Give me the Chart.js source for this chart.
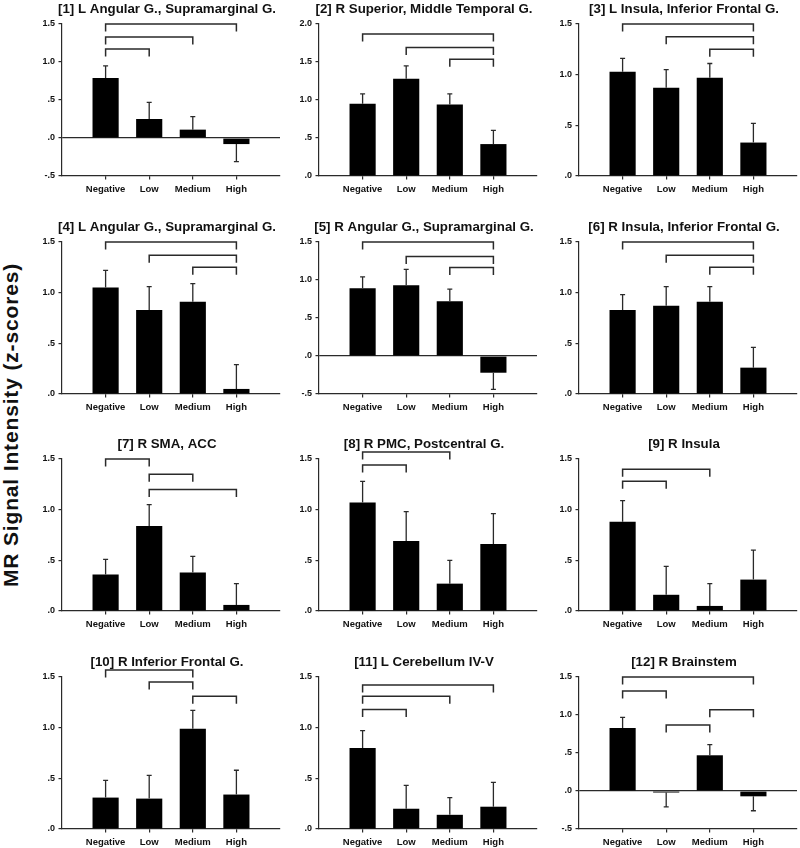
<!DOCTYPE html>
<html>
<head>
    <title>MR Signal Intensity by Category</title>
    <script src="https://cdn.jsdelivr.net/npm/chart.js"></script>
    <style>
        body { margin: 0; width: 800px; height: 848px; overflow: hidden; background: #fff; position: relative; }
        canvas { position: absolute; }
        #ylabel {
            position: absolute; left: -189px; top: 413px; width: 400px; height: 24px;
            line-height: 24px; text-align: center; transform: rotate(-90deg);
            font: bold 21px "Liberation Sans", Arial, sans-serif; letter-spacing: 0.85px; color: #111;
            white-space: nowrap;
        }
    </style>
</head>
<body>
    <div id="ylabel">MR Signal Intensity (z-scores)</div>

    <script>
        // categories on the x axis of every panel
        var categories = ['Negative', 'Low', 'Medium', 'High'];

        var titles = [
            '[1] L Angular G., Supramarginal G.',
            '[2] R Superior, Middle Temporal G.',
            '[3] L Insula, Inferior Frontal G.',
            '[4] L Angular G., Supramarginal G.',
            '[5] R Angular G., Supramarginal G.',
            '[6] R Insula, Inferior Frontal G.',
            '[7] R SMA, ACC',
            '[8] R PMC, Postcentral G.',
            '[9] R Insula',
            '[10] R Inferior Frontal G.',
            '[11] L Cerebellum IV-V',
            '[12] R Brainstem'
        ];

        // mean z-scores per panel (Negative, Low, Medium, High)
        var means = [
            [0.79, 0.25, 0.11, -0.08],
            [0.95, 1.28, 0.94, 0.42],
            [1.03, 0.87, 0.97, 0.33],
            [1.05, 0.83, 0.91, 0.05],
            [0.89, 0.93, 0.72, -0.22],
            [0.83, 0.87, 0.91, 0.26],
            [0.36, 0.84, 0.38, 0.06],
            [1.07, 0.69, 0.27, 0.66],
            [0.88, 0.16, 0.05, 0.31],
            [0.31, 0.30, 0.99, 0.34],
            [0.80, 0.20, 0.14, 0.22],
            [0.83, -0.02, 0.47, -0.07]
        ];

        // standard errors (one-sided bars)
        var sems = [
            [0.16, 0.22, 0.17, 0.23],
            [0.13, 0.17, 0.14, 0.18],
            [0.13, 0.18, 0.14, 0.19],
            [0.17, 0.23, 0.18, 0.24],
            [0.15, 0.21, 0.16, 0.22],
            [0.15, 0.19, 0.15, 0.20],
            [0.15, 0.21, 0.16, 0.21],
            [0.21, 0.29, 0.23, 0.30],
            [0.21, 0.28, 0.22, 0.29],
            [0.17, 0.23, 0.18, 0.24],
            [0.17, 0.23, 0.17, 0.24],
            [0.14, 0.19, 0.14, 0.19]
        ];

        // significance brackets: [from category, to category, level]
        var brackets = [
            [[0, 3, 1.5], [0, 2, 1.33], [0, 1, 1.17]],
            [[0, 3, 1.87], [1, 3, 1.69], [2, 3, 1.535]],
            [[0, 3, 1.5], [1, 3, 1.375], [2, 3, 1.25]],
            [[0, 3, 1.5], [1, 3, 1.37], [2, 3, 1.25]],
            [[0, 3, 1.5], [1, 3, 1.31], [2, 3, 1.165]],
            [[0, 3, 1.5], [1, 3, 1.37], [2, 3, 1.25]],
            [[0, 1, 1.5], [1, 2, 1.35], [1, 3, 1.2]],
            [[0, 2, 1.57], [0, 1, 1.44]],
            [[0, 2, 1.40], [0, 1, 1.28]],
            [[0, 2, 1.57], [1, 2, 1.45], [2, 3, 1.31]],
            [[0, 3, 1.42], [0, 2, 1.31], [0, 1, 1.18]],
            [[0, 3, 1.5], [0, 1, 1.315], [2, 3, 1.07], [1, 2, 0.87]]
        ];

        var yMin = [-0.5, 0, 0, 0, -0.5, 0, 0, 0, 0, 0, 0, -0.5];
        var yMax = [1.5, 2.0, 1.5, 1.5, 1.5, 1.5, 1.5, 1.5, 1.5, 1.5, 1.5, 1.5];

        // panel grid: y-axis x position per column, plot top per row
        var colX = [62, 319, 579];
        var rowTop = [24, 242, 459, 677];
        var FONT = '"Liberation Sans", Arial, sans-serif';
        var INK = '#2a2a2a';

        function tickText(v) {
            return v.toFixed(1).replace(/^(-?)0\./, '$1.');
        }

        // error bars and brackets, drawn through the chart scales
        function marksFor(p) {
            return {
                id: 'marks' + p,
                afterDatasetsDraw: function (chart) {
                    var ctx = chart.ctx, xs = chart.scales.x, ys = chart.scales.y;
                    ctx.save();
                    ctx.strokeStyle = INK;
                    ctx.lineWidth = 1.3;
                    means[p].forEach(function (m, i) {
                        var x = xs.getPixelForValue(i + 1);
                        var tip = m >= 0 ? m + sems[p][i] : m - sems[p][i];
                        var y0 = ys.getPixelForValue(m), y1 = ys.getPixelForValue(tip);
                        ctx.beginPath();
                        ctx.moveTo(x, y0);
                        ctx.lineTo(x, y1);
                        ctx.moveTo(x - 2.5, y1);
                        ctx.lineTo(x + 2.5, y1);
                        ctx.stroke();
                    });
                    ctx.lineWidth = 1.5;
                    brackets[p].forEach(function (b) {
                        var xa = xs.getPixelForValue(b[0] + 1);
                        var xb = xs.getPixelForValue(b[1] + 1);
                        var y = ys.getPixelForValue(b[2]);
                        ctx.beginPath();
                        ctx.moveTo(xa, y + 7.5);
                        ctx.lineTo(xa, y);
                        ctx.lineTo(xb, y);
                        ctx.lineTo(xb, y + 7.5);
                        ctx.stroke();
                    });
                    ctx.restore();
                }
            };
        }

        Chart.defaults.font.family = FONT;
        Chart.defaults.color = '#111';

        titles.forEach(function (title, p) {
            var cv = document.createElement('canvas');
            cv.width = 300;
            cv.height = 199;
            cv.style.left = (colX[p % 3] - 45) + 'px';
            cv.style.top = (rowTop[Math.floor(p / 3)] - 23) + 'px';
            document.body.appendChild(cv);

            new Chart(cv.getContext('2d'), {
                type: 'bar',
                data: {
                    datasets: [{
                        data: means[p].map(function (v, i) { return { x: i + 1, y: v }; }),
                        backgroundColor: '#000',
                        barPercentage: 0.6,
                        categoryPercentage: 1
                    }]
                },
                options: {
                    responsive: false,
                    animation: false,
                    events: [],
                    layout: { padding: 0 },
                    plugins: {
                        legend: { display: false },
                        tooltip: { enabled: false },
                        title: {
                            display: true,
                            text: title,
                            color: '#111',
                            font: { size: 13.3, weight: 'bold', lineHeight: '16px' },
                            padding: { top: 0, bottom: 7 }
                        }
                    },
                    scales: {
                        x: {
                            type: 'linear', min: 0, max: 5, offset: false,
                            afterBuildTicks: function (s) {
                                s.ticks = categories.map(function (c, i) { return { value: i + 1 }; });
                            },
                            afterFit: function (s) { s.height = 24; },
                            ticks: {
                                callback: function (v) { return categories[v - 1] || ''; },
                                font: { size: 9.5, weight: 'bold' },
                                padding: 4.5, maxRotation: 0, autoSkip: false
                            },
                            grid: { offset: false, drawOnChartArea: false, tickLength: 3.5, color: INK, lineWidth: 1.2 },
                            border: { color: INK, width: 1.2 }
                        },
                        y: {
                            min: yMin[p], max: yMax[p],
                            afterFit: function (s) { s.width = 45; },
                            ticks: {
                                stepSize: 0.5,
                                callback: tickText,
                                font: { size: 9, weight: 'bold' },
                                padding: 3.5
                            },
                            grid: {
                                color: function (c) {
                                    return (yMin[p] < 0 && Math.abs(c.tick.value) < 1e-9) ? INK : 'rgba(0,0,0,0)';
                                },
                                tickColor: INK,
                                tickLength: 3.5,
                                lineWidth: 1.2
                            },
                            border: { color: INK, width: 1.2 }
                        },
                        // empty right-hand spacer so the title centres near the plot
                        spacer: {
                            position: 'right', display: true,
                            afterFit: function (s) { s.width = 37; },
                            ticks: { display: false },
                            grid: { display: false },
                            border: { display: false }
                        }
                    }
                },
                plugins: [marksFor(p)]
            });
        });
    </script>
</body>
</html>
